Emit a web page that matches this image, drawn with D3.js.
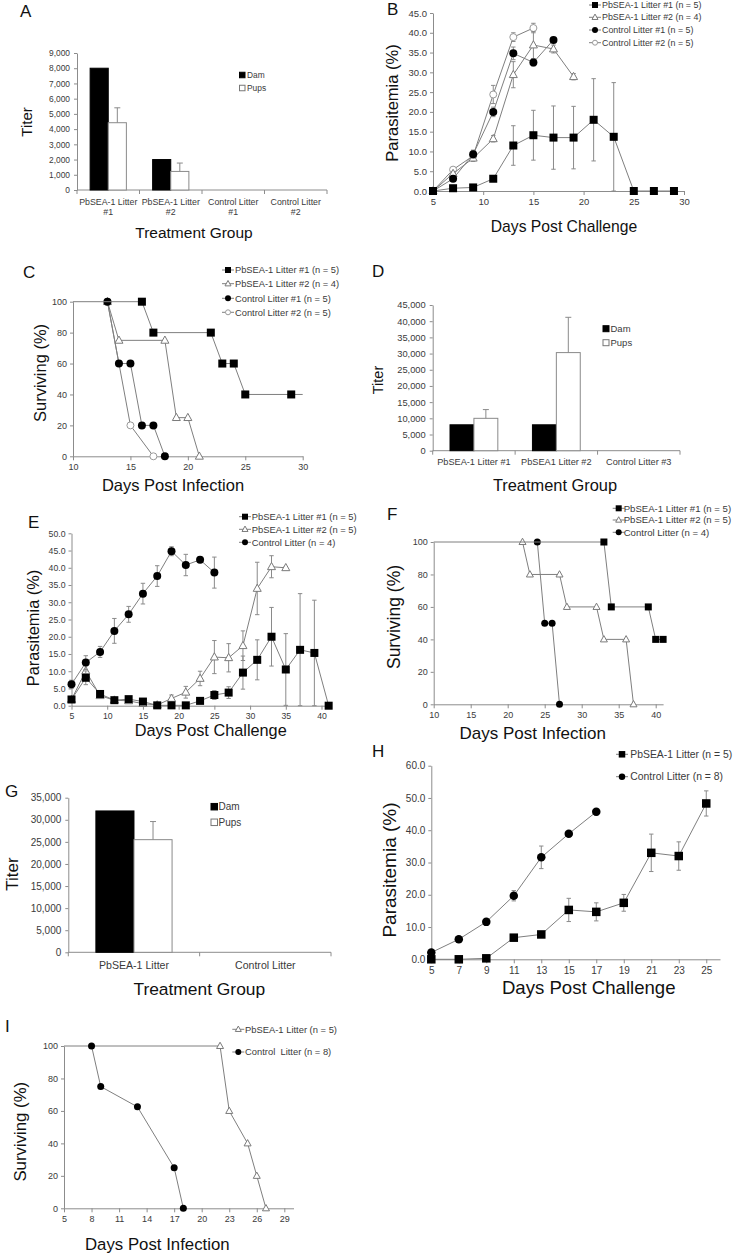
<!DOCTYPE html>
<html><head><meta charset="utf-8">
<script src="https://cdn.jsdelivr.net/npm/d3@7"></script>
<style>body{margin:0;background:#fff} svg{display:block}</style>
</head><body>
<svg id="c" width="734" height="1255"></svg>
<script>
// ---------------- DATA ----------------
// Panel A
const aCategories = [["PbSEA-1 Litter","#1"],["PbSEA-1 Litter","#2"],["Control Litter","#1"],["Control Litter","#2"]];
const aDam = [8000, 2000, null, null];
const aPups = [4420, 1220, null, null];
const aPupsErr = [980, 550, null, null];
const aYTicks = [0,1000,2000,3000,4000,5000,6000,7000,8000,9000];
// Panel B
const bLitter1Days = [5,7,9,11,13,15,17,19,21,23,25,27,29];
const bLitter1 = [0,0.7,0.9,3.1,11.5,14.1,13.5,13.5,18.0,13.7,0,0,0];
const bLitter1Err = [0,0.3,0.3,0.6,5.0,6.3,8.0,7.9,10.4,13.7,0,0,0];
const bLitter2Days = [5,7,9,11,13,15,17,19];
const bLitter2 = [0,4.4,8.3,13.2,29.4,36.9,35.9,28.9];
const bLitter2Err = [0,0.5,0.6,0.8,3.3,3.4,1.0,0.8];
const bCtrl1Days = [5,7,9,11,13,15,17];
const bCtrl1 = [0,3.1,9.3,20.0,34.8,32.5,38.2];
const bCtrl1Err = [0,0.7,1.0,1.2,1.6,0.9,0.6];
const bCtrl2Days = [5,7,9,11,13,15];
const bCtrl2 = [0,5.4,8.9,24.4,38.9,41.2];
const bCtrl2Err = [0,0.6,1.4,2.3,1.1,1.2];
const bXTicks = [5,10,15,20,25,30];
const bYTicks = [0,5,10,15,20,25,30,35,40,45];
// Panel C
const cLitter1Days = [16,17,22,23,24,25,29];
const cLitter1 = [100,80,80,60,60,40,40];
const cLitter2Days = [13,14,18,19,20,21];
const cLitter2 = [100,75,75,25,25,0];
const cCtrl1Days = [13,14,15,16,17,18];
const cCtrl1 = [100,60,60,20,20,0];
const cCtrl2Days = [13,15,17];
const cCtrl2 = [100,20,0];
const cXTicks = [10,15,20,25,30];
const survTicks = [0,20,40,60,80,100];
// Panel D
const dCategories = ["PbSEA-1 Litter #1","PbSEA1 Litter #2","Control Litter #3"];
const dDam = [8000, 8000, null];
const dPups = [10000, 30300, null];
const dPupsErr = [2700, 10900, null];
const dYTicks = [0,5000,10000,15000,20000,25000,30000,35000,40000,45000];
// Panel E
const eLitter1Days = [5,7,9,11,13,15,17,19,21,23,25,27,29,31,33,35,37,39,41];
const eLitter1 = [1.8,8.1,3.4,1.6,1.9,1.2,0.1,0.1,0.1,1.4,3.1,3.8,9.6,13.3,20.0,10.5,16.2,15.3,0];
const eLitter1Err = [0.5,2.0,0.8,0.5,0.4,0.5,0.1,0.1,0.1,0.4,1.3,1.7,4.8,5.8,8.5,10.4,16.3,15.3,0];
const eLitter2Days = [5,7,9,11,13,15,17,19,21,23,25,27,29,31,33,35];
const eLitter2 = [1.8,10.1,2.9,1.6,1.4,0.6,0.2,2.1,3.9,7.9,14.1,13.9,17.4,34.0,40.3,40.0];
const eLitter2Err = [0.4,1.5,0.6,0.4,0.4,0.3,0.1,1.0,1.7,2.1,4.8,4.1,4.3,7.6,3.2,0.3];
const eCtrlDays = [5,7,9,11,13,15,17,19,21,23,25];
const eCtrl = [6.2,12.5,15.6,21.7,26.5,32.5,37.6,44.8,40.8,42.3,38.6];
const eCtrlErr = [1.2,2.0,1.6,3.6,2.3,3.0,3.0,1.3,3.1,0.8,4.5];
const eXTicks = [5,10,15,20,25,30,35,40];
const eYTicks = [0,5,10,15,20,25,30,35,40,45,50];
// Panel F
const fLitter1Days = [33,34,39,40,41];
const fLitter1 = [100,60,60,40,40];
const fLitter2Days = [22,23,27,28,32,33,36,37];
const fLitter2 = [100,80,80,60,60,40,40,0];
const fCtrlDays = [24,25,26,27];
const fCtrl = [100,50,50,0];
const fXTicks = [10,15,20,25,30,35,40];
// Panel G
const gCategories = ["PbSEA-1 Litter","Control Litter"];
const gDam = [32000, null];
const gPups = [25500, null];
const gPupsErr = [4100, null];
const gYTicks = [0,5000,10000,15000,20000,25000,30000,35000];
// Panel H
const hLitterDays = [5,7,9,11,13,15,17,19,21,23,25];
const hLitter = [0,0,0.3,6.7,7.7,15.3,14.7,17.5,33.0,32.0,48.3];
const hLitterErr = [0.1,0.1,0.2,0.5,0.6,3.6,2.8,2.6,5.8,4.4,3.9];
const hCtrlDays = [5,7,9,11,13,15,17];
const hCtrl = [2.1,6.2,11.6,19.7,31.6,38.9,45.7];
const hCtrlErr = [0.3,0.4,1.0,1.6,3.5,0.6,1.0];
const hXTicks = [5,7,9,11,13,15,17,19,21,23,25];
const hYTicks = [0,10,20,30,40,50,60];
// Panel I
const iLitterDays = [22,23,25,26,27];
const iLitter = [100,60,40,20,0];
const iCtrlDays = [8,9,13,17,18];
const iCtrl = [100,75,62.5,25,0];
const iXTicks = [5,8,11,14,17,20,23,26,29];

// ---------------- DRAWING ----------------
const svg = d3.select("#c");
const FONT = '"Liberation Sans", Arial, Helvetica, sans-serif';
const AX = "#8c8c8c", LINE = "#7f7f7f", TXT = "#3a3a3a";
const LAYER = {ocircle:0, triangle:1, circle:2, square:3};
svg.append("rect").attr("width",734).attr("height",1255).attr("fill","#fff");

function styleAxis(g, fs){
  g.select(".domain").attr("stroke",AX).attr("stroke-width",1);
  g.selectAll(".tick line").attr("stroke",AX);
  g.selectAll(".tick text").attr("fill",TXT).attr("font-size",fs).attr("font-family",FONT);
}
function titleX(t, cx, cy, fs){
  svg.append("text").attr("x",cx).attr("y",cy).attr("dy","0.35em").attr("text-anchor","middle")
    .attr("font-family",FONT).attr("font-size",fs).attr("fill","#111").text(t);
}
function titleY(t, cx, cy, fs){
  svg.append("text").attr("transform",`translate(${cx},${cy}) rotate(-90)`).attr("dy","0.35em")
    .attr("text-anchor","middle").attr("font-family",FONT).attr("font-size",fs).attr("fill","#111").text(t);
}
function letter(t, x, y){
  svg.append("text").attr("x",x).attr("y",y).attr("font-family",FONT).attr("font-size",17).attr("fill","#111").text(t);
}
function marker(g, type, cx, cy, s){
  if (type === "square") g.append("rect").attr("x",cx-s/2).attr("y",cy-s/2).attr("width",s).attr("height",s).attr("fill","#000");
  else if (type === "circle") g.append("circle").attr("cx",cx).attr("cy",cy).attr("r",s/2).attr("fill","#000");
  else if (type === "ocircle") g.append("circle").attr("cx",cx).attr("cy",cy).attr("r",s/2-0.5).attr("fill","#fff").attr("stroke","#9a9a9a").attr("stroke-width",1);
  else if (type === "triangle") {
    const h = s*0.9;
    g.append("path").attr("d",`M${cx},${cy-h*0.6}L${cx+s/2},${cy+h*0.4}L${cx-s/2},${cy+h*0.4}Z`)
      .attr("fill","#fff").attr("stroke","#7a7a7a").attr("stroke-width",1);
  }
}

function linePanel(o){
  const g = svg.append("g");
  const x = d3.scaleLinear().domain(o.xDomain).range(o.xRange);
  const y = d3.scaleLinear().domain(o.yDomain).range(o.yRange);
  const xa = g.append("g").attr("transform",`translate(0,${o.yRange[0]})`)
    .call(d3.axisBottom(x).tickValues(o.xTicks).tickSize(4).tickSizeOuter(0).tickPadding(o.xPad||3).tickFormat(d3.format("d")));
  styleAxis(xa, o.tickFs);
  const ya = g.append("g").attr("transform",`translate(${o.xRange[0]},0)`)
    .call(d3.axisLeft(y).tickValues(o.yTicks).tickSize(3).tickSizeOuter(0).tickPadding(3).tickFormat(d3.format(o.yFmt)));
  styleAxis(ya, o.tickFs);
  // stacking: open markers underneath, filled squares on top
  o.series.slice().sort((a,b) => LAYER[a.marker]-LAYER[b.marker]).forEach(s => {
    const pts = s.x.map((d,i) => ({x:d, y:s.y[i], e: s.err ? s.err[i] : 0}));
    const lp = pts.slice();
    if (s.extendStart) lp.unshift({x:o.xDomain[0], y:pts[0].y});
    if (s.extendEnd) lp.push({x:o.xDomain[1], y:pts[pts.length-1].y});
    g.append("path").datum(lp).attr("d", d3.line().x(d=>x(d.x)).y(d=>y(d.y)))
      .attr("fill","none").attr("stroke",LINE).attr("stroke-width",1);
    const cap = 2.2;
    pts.forEach(p => {
      if (p.e > 0) {
        const lo = Math.max(o.yDomain[0], p.y - p.e), hi = p.y + p.e;
        g.append("line").attr("x1",x(p.x)).attr("x2",x(p.x)).attr("y1",y(lo)).attr("y2",y(hi)).attr("stroke","#8a8a8a").attr("stroke-width",1);
        g.append("line").attr("x1",x(p.x)-cap).attr("x2",x(p.x)+cap).attr("y1",y(hi)).attr("y2",y(hi)).attr("stroke","#8a8a8a").attr("stroke-width",1);
        g.append("line").attr("x1",x(p.x)-cap).attr("x2",x(p.x)+cap).attr("y1",y(lo)).attr("y2",y(lo)).attr("stroke","#8a8a8a").attr("stroke-width",1);
      }
    });
    pts.forEach(p => marker(g, s.marker, x(p.x), y(p.y), o.msize));
  });
  // legend
  o.series.forEach((s,i) => {
    const ly = o.legend.rows[i];
    g.append("line").attr("x1",o.legend.mx-6).attr("x2",o.legend.mx+6).attr("y1",ly).attr("y2",ly).attr("stroke",LINE);
    marker(g, s.marker, o.legend.mx, ly, o.legend.ms || 6);
    g.append("text").attr("x",o.legend.tx).attr("y",ly).attr("dy","0.35em").attr("font-family",FONT)
      .attr("font-size",o.legend.fs).attr("fill",TXT).style("white-space","pre").attr("xml:space","preserve").text(s.name);
  });
}

function barPanel(o){
  const g = svg.append("g");
  const labels = o.categories.map((c,i)=>i);
  const x = d3.scaleBand().domain(labels).range(o.xRange).padding(0);
  const y = d3.scaleLinear().domain(o.yDomain).range(o.yRange);
  const ya = g.append("g").attr("transform",`translate(${o.xRange[0]},0)`)
    .call(d3.axisLeft(y).tickValues(o.yTicks).tickSize(3).tickSizeOuter(0).tickPadding(4).tickFormat(d3.format(",")));
  styleAxis(ya, o.tickFs);
  const y0 = y(0);
  g.append("line").attr("x1",o.xRange[0]).attr("x2",o.xRange[1]).attr("y1",y0).attr("y2",y0).attr("stroke",AX);
  d3.range(o.categories.length+1).forEach(i => {
    const xx = o.xRange[0] + i*x.step();
    g.append("line").attr("x1",xx).attr("x2",xx).attr("y1",y0).attr("y2",y0+4).attr("stroke",AX);
  });
  o.categories.forEach((c,i) => {
    const lines = Array.isArray(c) ? c : [c];
    const t = g.append("text").attr("text-anchor","middle").attr("font-family",FONT).attr("font-size",o.catFs).attr("fill",TXT);
    lines.forEach((ln,j) => t.append("tspan").attr("x",x(i)+x.bandwidth()/2).attr("y",o.catY + j*o.catFs*1.15).text(ln));
  });
  const bw = x.step()*0.29;
  o.series.forEach((s,si) => {
    s.values.forEach((v,i) => {
      if (v == null) return;
      const bx = x(i) + x.bandwidth()/2 - bw + si*bw;
      g.append("rect").attr("x",bx).attr("y",y(v)).attr("width",bw).attr("height",y0-y(v))
        .attr("fill",s.fill).attr("stroke",s.stroke).attr("stroke-width",1);
      if (s.err && s.err[i]) {
        const cx = bx + bw/2, hi = y(v + s.err[i]);
        g.append("line").attr("x1",cx).attr("x2",cx).attr("y1",y(v)).attr("y2",hi).attr("stroke","#8a8a8a");
        g.append("line").attr("x1",cx-3).attr("x2",cx+3).attr("y1",hi).attr("y2",hi).attr("stroke","#8a8a8a");
      }
    });
  });
  o.series.forEach((s,i) => {
    const ly = o.legend.rows[i], sz = o.legend.ms;
    g.append("rect").attr("x",o.legend.mx).attr("y",ly-sz/2).attr("width",sz).attr("height",sz)
      .attr("fill",s.fill).attr("stroke",s.fill === "#000" ? "#000" : "#777");
    g.append("text").attr("x",o.legend.tx).attr("y",ly).attr("dy","0.35em").attr("font-family",FONT)
      .attr("font-size",o.legend.fs).attr("fill",TXT).text(s.name);
  });
}

// ----- A -----
letter("A", 20, 17);
barPanel({categories:aCategories, xRange:[77,327], yRange:[190,53], yDomain:[0,9000], yTicks:aYTicks, tickFs:8.4,
  catFs:8.8, catY:204.5,
  series:[{name:"Dam", values:aDam, fill:"#000", stroke:"#000"},
          {name:"Pups", values:aPups, err:aPupsErr, fill:"#fff", stroke:"#8a8a8a"}],
  legend:{mx:239.5, tx:247, rows:[75,88], fs:8.4, ms:5.5}});
titleY("Titer", 27, 122, 15);
titleX("Treatment Group", 194, 233, 15.5);

// ----- B -----
letter("B", 387, 15);
linePanel({xDomain:[5,30], xRange:[433,684], yDomain:[0,45], yRange:[191,13], xTicks:bXTicks, yTicks:bYTicks, yFmt:".1f", tickFs:9.5, msize:8,
  series:[
    {name:"PbSEA-1 Litter #1 (n = 5)", x:bLitter1Days, y:bLitter1, err:bLitter1Err, marker:"square"},
    {name:"PbSEA-1 Litter #2 (n = 4)", x:bLitter2Days, y:bLitter2, err:bLitter2Err, marker:"triangle"},
    {name:"Control Litter #1 (n = 5)", x:bCtrl1Days, y:bCtrl1, err:bCtrl1Err, marker:"circle"},
    {name:"Control Litter #2 (n = 5)", x:bCtrl2Days, y:bCtrl2, err:bCtrl2Err, marker:"ocircle"}],
  legend:{mx:595, tx:602, rows:[5,17.3,30,42.7], fs:8.9, ms:6}});
titleX("Days Post Challenge", 564, 227, 15.7);
titleY("Parasitemia (%)", 392, 103, 16.5);

// ----- C -----
letter("C", 23, 278);
linePanel({xDomain:[10,30], xRange:[73,302.7], yDomain:[0,100], yRange:[456.3,301.7], xTicks:cXTicks, yTicks:survTicks, yFmt:"d", tickFs:9, msize:8,
  series:[
    {name:"PbSEA-1 Litter #1 (n = 5)", x:cLitter1Days, y:cLitter1, marker:"square", extendStart:true, extendEnd:true},
    {name:"PbSEA-1 Litter #2 (n = 4)", x:cLitter2Days, y:cLitter2, marker:"triangle"},
    {name:"Control Litter #1 (n = 5)", x:cCtrl1Days, y:cCtrl1, marker:"circle"},
    {name:"Control Litter #2 (n = 5)", x:cCtrl2Days, y:cCtrl2, marker:"ocircle"}],
  legend:{mx:228, tx:235, rows:[270,283.7,298.3,312.3], fs:9.3, ms:6}});
titleX("Days Post Infection", 173, 485, 16.5);
titleY("Surviving (%)", 40, 373, 16.5);

// ----- D -----
letter("D", 372, 277);
barPanel({categories:dCategories, xRange:[432.7,680], yRange:[450.7,305], yDomain:[0,45000], yTicks:dYTicks, tickFs:9.3,
  catFs:9.2, catY:465,
  series:[{name:"Dam", values:dDam, fill:"#000", stroke:"#000"},
          {name:"Pups", values:dPups, err:dPupsErr, fill:"#fff", stroke:"#8a8a8a"}],
  legend:{mx:603, tx:610.5, rows:[328.7,342.7], fs:9.5, ms:6}});
titleY("Titer", 378, 380, 14.5);
titleX("Treatment Group", 555, 485, 16.4);

// ----- E -----
letter("E", 28, 528);
linePanel({xDomain:[5,41.3], xRange:[71.5,330.8], yDomain:[0,50], yRange:[705.7,533.3], xTicks:eXTicks, yTicks:eYTicks, yFmt:".1f", tickFs:8.7, msize:8,
  series:[
    {name:"PbSEA-1 Litter #1 (n = 5)", x:eLitter1Days, y:eLitter1, err:eLitter1Err, marker:"square"},
    {name:"PbSEA-1 Litter #2 (n = 5)", x:eLitter2Days, y:eLitter2, err:eLitter2Err, marker:"triangle"},
    {name:"Control Litter (n = 4)", x:eCtrlDays, y:eCtrl, err:eCtrlErr, marker:"circle"}],
  legend:{mx:245, tx:251.7, rows:[516.7,529.3,542.3], fs:9.4, ms:6}});
titleX("Days Post Challenge", 210.7, 730.7, 16.3);
titleY("Parasitemia (%)", 33, 628, 16.4);

// ----- F -----
letter("F", 387, 520);
linePanel({xDomain:[10,41], xRange:[433.7,663.1], yDomain:[0,100], yRange:[704.3,542], xTicks:fXTicks, yTicks:survTicks, yFmt:"d", tickFs:9, msize:7,
  series:[
    {name:"PbSEA-1 Litter #1 (n = 5)", x:fLitter1Days, y:fLitter1, marker:"square", extendStart:true},
    {name:"PbSEA-1 Litter #2 (n = 5)", x:fLitter2Days, y:fLitter2, marker:"triangle"},
    {name:"Control Litter (n = 4)", x:fCtrlDays, y:fCtrl, marker:"circle"}],
  legend:{mx:618.7, tx:623.7, rows:[508.3,520,532.3], fs:9.6, ms:6}});
titleX("Days Post Infection", 532.7, 733.3, 17);
titleY("Surviving (%)", 393.7, 617, 17.5);

// ----- G -----
letter("G", 5, 797);
barPanel({categories:gCategories, xRange:[68.3,331], yRange:[952.3,797.7], yDomain:[0,35000], yTicks:gYTicks, tickFs:10,
  catFs:10.6, catY:969,
  series:[{name:"Dam", values:gDam, fill:"#000", stroke:"#000"},
          {name:"Pups", values:gPups, err:gPupsErr, fill:"#fff", stroke:"#8a8a8a"}],
  legend:{mx:211, tx:218.5, rows:[806.7,822.3], fs:10, ms:6.5}});
titleY("Titer", 12, 874, 17);
titleX("Treatment Group", 199.3, 989, 17.4);

// ----- H -----
letter("H", 372, 757);
linePanel({xDomain:[5,26], xRange:[431.3,720], yDomain:[0,60], yRange:[959.3,765.7], xTicks:hXTicks, yTicks:hYTicks, yFmt:".1f", tickFs:10, xPad:4, msize:8.5,
  series:[
    {name:"PbSEA-1 Litter (n = 5)", x:hLitterDays, y:hLitter, err:hLitterErr, marker:"square"},
    {name:"Control Litter (n = 8)", x:hCtrlDays, y:hCtrl, err:hCtrlErr, marker:"circle"}],
  legend:{mx:622, tx:630.3, rows:[754.3,776.7], fs:10.4, ms:6.5}});
titleX("Days Post Challenge", 588.7, 987.3, 18.6);
titleY("Parasitemia (%)", 389.5, 870, 19);

// ----- I -----
letter("I", 5, 1032);
linePanel({xDomain:[5,30], xRange:[64,293.5], yDomain:[0,100], yRange:[1208.3,1046], xTicks:iXTicks, yTicks:survTicks, yFmt:"d", tickFs:9, msize:7,
  series:[
    {name:"PbSEA-1 Litter (n = 5)", x:iLitterDays, y:iLitter, marker:"triangle", extendStart:true},
    {name:"Control  Litter (n = 8)", x:iCtrlDays, y:iCtrl, marker:"circle"}],
  legend:{mx:238.3, tx:245, rows:[1029.3,1052], fs:9.4, ms:6}});
titleX("Days Post Infection", 157.3, 1244, 16.8);
titleY("Surviving (%)", 20, 1131.7, 16.8);
</script>
</body></html>
